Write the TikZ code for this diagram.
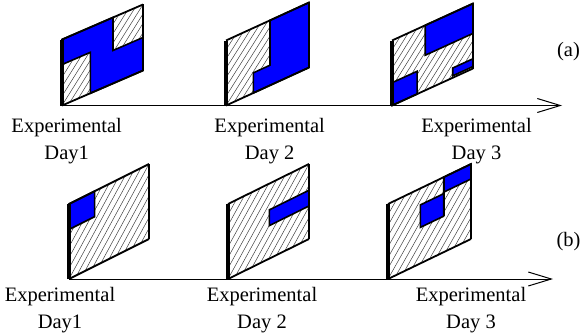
\documentclass[tikz,border=0pt]{standalone}
\usepackage{fontspec}
\setmainfont{Liberation Serif}
\usetikzlibrary{arrows.meta}
\definecolor{dayblue}{RGB}{0, 0, 255}

% hatched panel face and its frame, in the panel's own skewed unit square
\newcommand{\hatchface}{%
  \begin{scope}
    \clip (0,0) -- (1,0) -- (1,1) -- (0,1) -- cycle;
    \foreach \t in {-0.7,-0.6,...,1.05} \draw[hatch] (\t,0) -- ++(0.7,1);
  \end{scope}}
\newcommand{\panelrim}{%
  \draw[rim] (0,0) -- (1,0) (0,1) -- (1,1);
  \draw[rim, line width=3.4pt] (0,0) -- (0,1);
  \draw[rim, line width=2.6pt] (1,0) -- (1,1);}

\begin{document}
\begin{tikzpicture}[x=1pt, y=1pt,
    hatch/.style={black!75, line width=0.5pt},
    rim/.style={black, line width=1.8pt},
    blueblock/.style={fill=dayblue, draw=black, line width=1.6pt},
    daytext/.style={anchor=base, inner sep=0pt, font=\fontsize{20.5}{25}\selectfont},
    timeaxis/.style={line width=1pt, -{Straight Barb[length=23pt, width=14pt]}}]
  \useasboundingbox (0,0) rectangle (584,333);

  % Time axes
  \coordinate (ta0) at (62,227.5);
  \coordinate (ta9) at (562,227.5);
  \draw[timeaxis] (ta0) -- (ta9);
  \coordinate (tb0) at (69,54);
  \coordinate (tb9) at (553,54);
  \draw[timeaxis] (tb0) -- (tb9);

  % (a) Day 1
  \begin{scope}[shift={(62,227.5)}, x={(81pt,35pt)}, y={(0pt,66pt)}]
    \hatchface
    \filldraw[blueblock] (0,1) -- (0.63,1) -- (0.63,0.5) -- (1,0.5) -- (1,0)
      -- (0.35,0) -- (0.35,0.62) -- (0,0.62) -- cycle;
    \panelrim
  \end{scope}
  % (a) Day 2
  \begin{scope}[shift={(226,227.5)}, x={(83pt,38pt)}, y={(0pt,65pt)}]
    \hatchface
    \filldraw[blueblock] (0.53,1) -- (1,1) -- (1,0) -- (0.33,0) -- (0.33,0.31)
      -- (0.53,0.31) -- cycle;
    \panelrim
  \end{scope}
  % (a) Day 3
  \begin{scope}[shift={(392,227.5)}, x={(81pt,37pt)}, y={(0pt,65pt)}]
    \hatchface
    \filldraw[blueblock] (0.41,0.54) -- (1,0.54) -- (1,1) -- (0.41,1) -- cycle;
    \filldraw[blueblock] (0,0) -- (0.31,0) -- (0.31,0.35) -- (0,0.35) -- cycle;
    \filldraw[blueblock] (0.75,0.03) -- (1,0.03) -- (1,0.15) -- (0.75,0.15) -- cycle;
    \panelrim
  \end{scope}

  % (b) Day 1
  \begin{scope}[shift={(69,54)}, x={(80pt,40pt)}, y={(0pt,75pt)}]
    \hatchface
    \filldraw[blueblock] (0,0.66) -- (0.32,0.66) -- (0.32,1) -- (0,1) -- cycle;
    \panelrim
  \end{scope}
  % (b) Day 2
  \begin{scope}[shift={(228,54)}, x={(81pt,40pt)}, y={(0pt,75pt)}]
    \hatchface
    \filldraw[blueblock] (0.51,0.44) -- (1,0.44) -- (1,0.65) -- (0.51,0.65) -- cycle;
    \panelrim
  \end{scope}
  % (b) Day 3
  \begin{scope}[shift={(388,54)}, x={(83pt,40pt)}, y={(0pt,75pt)}]
    \hatchface
    \filldraw[blueblock] (0.67,0.8) -- (1,0.8) -- (1,1) -- (0.67,1) -- cycle;
    \filldraw[blueblock] (0.39,0.48) -- (0.67,0.48) -- (0.67,0.78) -- (0.39,0.78) -- cycle;
    \draw[rim] (0.67,0.48) -- (0.67,1);
    \panelrim
  \end{scope}

  % Day labels
  \node[daytext] (la1) at (66.7,201) {Experimental};
  \node[daytext] (la1d) at ([yshift=-27pt]la1.base) {Day1};
  \node[daytext] (la2) at (269.7,201) {Experimental};
  \node[daytext] (la2d) at ([yshift=-27pt]la2.base) {Day 2};
  \node[daytext] (la3) at (476.5,201) {Experimental};
  \node[daytext] (la3d) at ([yshift=-27pt]la3.base) {Day 3};
  \node[daytext] (lb1) at (60,32) {Experimental};
  \node[daytext] (lb1d) at ([yshift=-27pt]lb1.base) {Day1};
  \node[daytext] (lb2) at (262,32) {Experimental};
  \node[daytext] (lb2d) at ([yshift=-27pt]lb2.base) {Day 2};
  \node[daytext] (lb3) at (471,32) {Experimental};
  \node[daytext] (lb3d) at ([yshift=-27pt]lb3.base) {Day 3};

  % Row tags
  \node[daytext, anchor=center] (taga) at (568.5,281) {(a)};
  \node[daytext, anchor=center] (tagb) at (568.5,91.5) {(b)};
\end{tikzpicture}
\end{document}
